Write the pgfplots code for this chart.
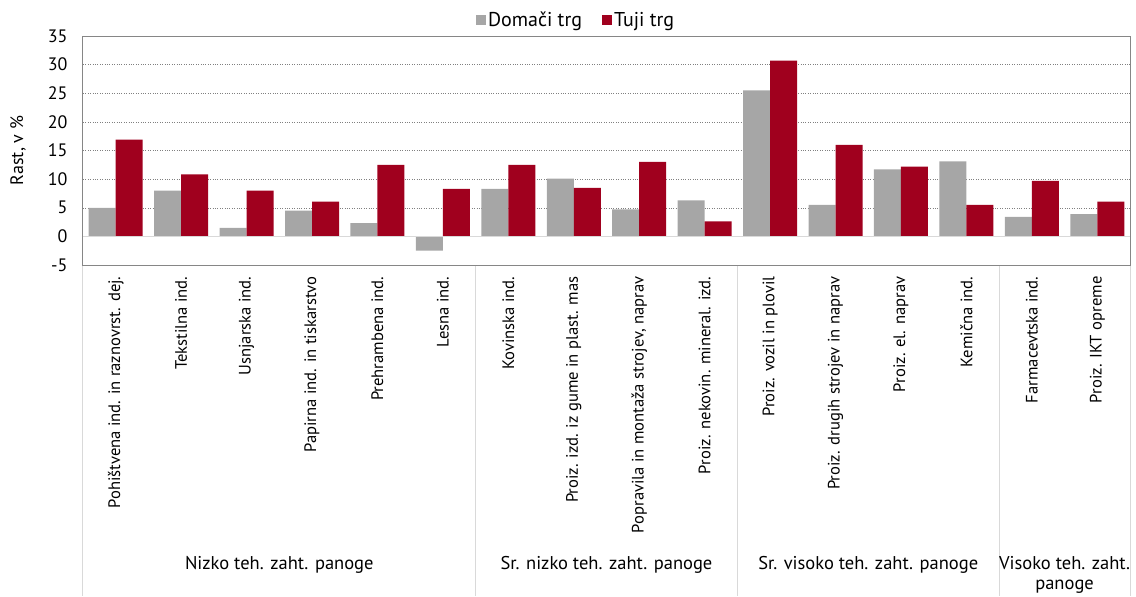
\documentclass[border=0pt]{standalone}
\usepackage{fontspec}
\setmainfont{PT Sans}
\usepackage{pgfplots}
\pgfplotsset{compat=1.18}
\usetikzlibrary{calc}
\definecolor{domaci}{HTML}{A6A6A6}
\definecolor{tuji}{HTML}{A0001E}
\definecolor{boxline}{HTML}{868686}
\definecolor{sepline}{HTML}{D9D9D9}

\begin{document}
\begin{tikzpicture}
\begin{axis}[
  scale only axis,
  width=1047pt, height=229pt,
  ybar, bar width=27pt, ybar=0pt,
  ymin=-5, ymax=35,
  ytick={-5,0,...,35},
  xmin=-0.5, xmax=15.5,
  xtick={0,...,15},
  xticklabels={Pohištvena ind. in raznovrst. dej., Tekstilna ind., Usnjarska ind., Papirna ind. in tiskarstvo, Prehrambena ind., Lesna ind., Kovinska ind., Proiz. izd. iz gume in plast. mas, {Popravila in montaža strojev, naprav}, Proiz. nekovin. mineral. izd., Proiz. vozil in plovil, Proiz. drugih strojev in naprav, Proiz. el. naprav, Kemična ind., Farmacevtska ind., Proiz. IKT opreme},
  x tick label style={rotate=90, anchor=east, font=\fontsize{16.6}{19}\selectfont},
  xticklabel shift=8pt,
  y tick label style={font=\fontsize{18}{20}\selectfont},
  yticklabel shift=12pt,
  /pgf/number format/assume math mode=true,
  major tick length=0pt,
  axis line style={boxline, line width=1pt},
  ymajorgrids, major grid style={dotted, black!50, line width=0.5pt},
  legend style={at={(rel axis cs:0.471,1)}, anchor=south, yshift=6pt, draw=none, fill=none, legend columns=2,
    font=\fontsize{20}{22}\selectfont, inner sep=0pt,
    /tikz/every even column/.append style={column sep=18pt}},
  legend image code/.code={\fill[#1] (0pt,-5pt) rectangle (10pt,5pt);},
  clip=false,
]
\addplot[fill=domaci, draw=none] coordinates {(0,5.0) (1,8.0) (2,1.5) (3,4.5) (4,2.3) (5,-2.5) (6,8.3) (7,10.1) (8,4.7) (9,6.3) (10,25.5) (11,5.5) (12,11.7) (13,13.1) (14,3.4) (15,3.9)};
\addplot[fill=tuji, draw=none] coordinates {(0,16.9) (1,10.85) (2,8.0) (3,6.05) (4,12.5) (5,8.3) (6,12.5) (7,8.45) (8,13.0) (9,2.6) (10,30.7) (11,16.0) (12,12.2) (13,5.5) (14,9.7) (15,6.05)};
\legend{Domači trg, Tuji trg}
\draw[sepline, line width=1.5pt] (axis cs:-0.5,0) -- (axis cs:15.5,0);
\coordinate (o) at (rel axis cs:0,0);
\coordinate (s0) at (axis cs:-0.5,-5);
\coordinate (s1) at (axis cs:5.5,-5);
\coordinate (s2) at (axis cs:9.5,-5);
\coordinate (s3) at (axis cs:13.5,-5);
\coordinate (s4) at (axis cs:15.5,-5);
\end{axis}
\foreach \s in {s0,s1,s2,s3,s4}{
  \draw[sepline, line width=1pt] ($(\s)+(0,-1pt)$) -- ++(0,-330pt);
}
\path (s0) -- (s1) coordinate[pos=0.5] (g1);
\path (s1) -- (s2) coordinate[pos=0.5] (g2);
\path (s2) -- (s3) coordinate[pos=0.5] (g3);
\path (s3) -- (s4) coordinate[pos=0.5] (g4);
\begin{scope}[every node/.style={font=\fontsize{18.5}{20}\selectfont, inner sep=0pt}]
\node[anchor=center] at ($(g1)+(0,-300pt)$) {Nizko teh. zaht. panoge};
\node[anchor=center] at ($(g2)+(0,-300pt)$) {Sr. nizko teh. zaht. panoge};
\node[anchor=center] at ($(g3)+(0,-300pt)$) {Sr. visoko teh. zaht. panoge};
\node[anchor=north, align=center] at ($(g4)+(0,-291pt)$) {Visoko teh. zaht.\\panoge};
\end{scope}
\node[rotate=90, font=\fontsize{18}{20}\selectfont, inner sep=0pt] at ($(o)+(-65pt,114.5pt)$) {Rast, v \%};
\useasboundingbox ($(o)+(-83pt,-331pt)$) rectangle ($(o)+(1053pt,265pt)$);
\end{tikzpicture}
\end{document}
